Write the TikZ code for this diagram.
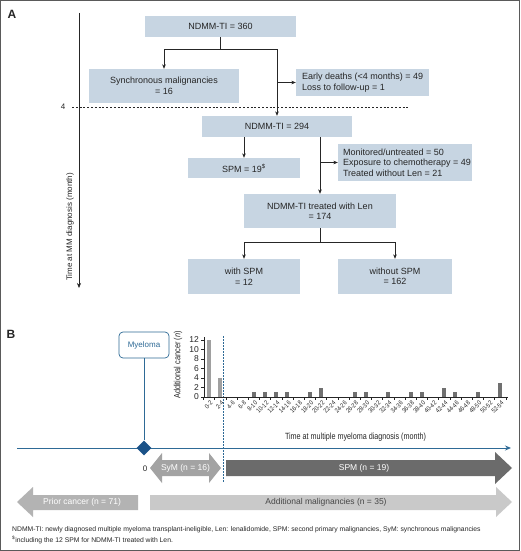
\documentclass[tikz,border=0pt]{standalone}
\usepackage{fontspec}
\setmainfont{Liberation Sans}
\usetikzlibrary{arrows.meta,shapes.geometric}
\definecolor{boxfill}{HTML}{C7D5E2}
\definecolor{txt}{HTML}{262626}
\definecolor{axblue}{HTML}{2E6A96}
\definecolor{diamblue}{HTML}{1B5288}
\definecolor{symgray}{HTML}{A3A3A3}
\definecolor{spmgray}{HTML}{6B6B6B}
\definecolor{priorgray}{HTML}{B3B3B3}
\definecolor{addgray}{HTML}{C9C9C9}
\definecolor{barlight}{HTML}{A0A0A0}
\definecolor{bardark}{HTML}{707070}
\definecolor{framec}{HTML}{5A5A5A}
\begin{document}
\begin{tikzpicture}[x=1pt,y=-1pt,
  box/.style={fill=boxfill, inner sep=0pt, font=\fontsize{9}{10.5}\selectfont, text=txt, align=center},
  ltext/.style={inner sep=0pt, font=\fontsize{9}{10.5}\selectfont, text=txt, align=left, anchor=west},
  conn/.style={draw=txt, line width=0.6pt},
  arr/.style={conn, -{Stealth[length=4.5pt,width=3.6pt]}},
  panel/.style={font=\bfseries\fontsize{12}{12}\selectfont, text=txt},
  arrowtext/.style={font=\fontsize{8.5}{9}\selectfont, text=white},
  tick/.style={font=\fontsize{8.5}{9}\selectfont, text=txt, inner sep=1pt},
  binlab/.style={font=\fontsize{6.5}{6.5}\selectfont, text=txt, inner sep=0pt, rotate=45, anchor=east},
  foot/.style={font=\fontsize{6.8}{7.5}\selectfont, text=txt, anchor=west, inner sep=0pt}
]
\useasboundingbox (0,0) rectangle (520,551);
\fill[white] (0,0) rectangle (520,551);
\draw[framec, line width=1pt] (0.5,0.5) rectangle (519.5,550.5);

% ---------------- Panel A ----------------
\node[panel] (labA) at (12,14) {A};

\coordinate (t0) at (79,13);
\coordinate (t1) at (79,288);
\draw[conn, -{Stealth[length=5pt,width=4pt]}] (t0) -- (t1);
\node[rotate=90, anchor=west, font=\fontsize{8}{9}\selectfont, text=txt, inner sep=0pt] (tlab) at (70,281) {Time at MM diagnosis (month)};

\node[font=\fontsize{8}{9}\selectfont, text=txt, inner sep=0pt] (four) at (63,107) {4};
\coordinate (d1) at (72,107);
\coordinate (d2) at (410,107);
\draw[txt, line width=0.6pt, dash pattern=on 2pt off 1.8pt] (d1) -- (d2);

\node[box, minimum width=151, minimum height=21] (n360) at (220.5,26.5) {NDMM-TI = 360};
\node[box, minimum width=150, minimum height=34] (syn) at (164,86) {Synchronous malignancies\\= 16};
\node[box, minimum width=133, minimum height=27] (early) at (362.5,82.5) {};
\node[ltext] (earlyt) at ([xshift=6pt]early.west) {Early deaths (<4 months) = 49\\Loss to follow-up = 1};
\node[box, minimum width=150, minimum height=21] (n294) at (277,126.5) {NDMM-TI = 294};
\node[box, minimum width=112, minimum height=20] (spm) at (244,168) {SPM = 19\textsuperscript{\$}};
\node[box, minimum width=134, minimum height=37] (mon) at (405,162.5) {};
\node[ltext] (mont) at ([xshift=5pt]mon.west) {Monitored/untreated = 50\\Exposure to chemotherapy = 49\\Treated without Len = 21};
\node[box, minimum width=152, minimum height=34] (len) at (320,211) {NDMM-TI treated with Len\\= 174};
\node[box, minimum width=112, minimum height=35] (with) at (244,276.5) {with SPM\\= 12};
\node[box, minimum width=114, minimum height=35] (without) at (395,276.5) {without SPM\\= 162};

\coordinate (j1) at (220.5,49);
\draw[conn] (n360.south) -- (j1);
\draw[arr] (j1) -| (syn.north);
\draw[arr] (j1) -| (n294.north);
\coordinate (j2) at (277,82.5);
\draw[arr] (j2) -- (early.west);
\draw[arr] (spm.north |- n294.south) -- (spm.north);
\draw[arr] (len.north |- n294.south) -- (len.north);
\coordinate (j3) at (len.north |- mon.west);
\draw[arr] (j3) -- (mon.west);
\coordinate (j4) at (320,242);
\draw[conn] (len.south) -- (j4);
\draw[arr] (j4) -| (with.north);
\draw[arr] (j4) -| (without.north);

% ---------------- Panel B ----------------
\node[panel] (labB) at (11,334) {B};

% block arrows
\fill[priorgray] (17,502) -- (33,487) -- (33,495) -- (138,495) -- (138,510) -- (33,510) -- (33,517) -- cycle;
\node[arrowtext] (prior) at (82,502.5) {Prior cancer (n = 71)};
\fill[addgray] (150,495) -- (496,495) -- (496,487) -- (512,502) -- (496,517) -- (496,510) -- (150,510) -- cycle;
\node[arrowtext, text=txt!85] (addm) at (326,502.5) {Additional malignancies (n = 35)};
\fill[symgray] (150,468) -- (162,453) -- (162,460) -- (209,460) -- (209,453) -- (221,468) -- (209,483) -- (209,476) -- (162,476) -- (162,483) -- cycle;
\node[arrowtext] (sym) at (185.5,468) {SyM (n = 16)};
\fill[spmgray] (226,460) -- (495,460) -- (495,452) -- (512,468) -- (495,484) -- (495,476) -- (226,476) -- cycle;
\node[arrowtext] (spmb) at (364,468) {SPM (n = 19)};

\node[font=\fontsize{8}{9}\selectfont, text=txt, inner sep=0pt] (zero) at (145,469) {0};

% dotted 4-month line
\coordinate (v1) at (223,336);
\coordinate (v2) at (223,482);
\draw[axblue, line width=0.7pt, dash pattern=on 1.5pt off 1.5pt] (v1) -- (v2);

% time axis
\coordinate (h0) at (17,448);
\coordinate (h1) at (511,448);
\draw[axblue, line width=1pt, -{Stealth[length=6pt,width=5pt]}] (h0) -- (h1);
\node[font=\fontsize{9}{10}\selectfont, text=txt, inner sep=0pt] (taxis) at (355.5,437) {\scalebox{0.8}[1]{Time at multiple myeloma diagnosis (month)}};

% myeloma
\node[draw=axblue, line width=0.7pt, rounded corners=4pt, fill=white, minimum width=50, minimum height=26, inner sep=0pt, font=\fontsize{8}{9}\selectfont, text=axblue] (mye) at (144,345) {Myeloma};
\node[diamond, fill=diamblue, minimum size=15, inner sep=0pt] (dia) at (144,448) {};
\draw[axblue, line width=1pt] (mye.south) -- (dia.north);

% bar chart
\coordinate (o) at (204,397);
\coordinate (ytop) at (204,337);
\coordinate (xend) at (508,397);
\draw[txt, line width=0.6pt] (ytop) -- (o) -- (xend);
\foreach \v in {0,2,...,12} {
  \draw[txt, line width=0.5pt] (204,{397-4.75*\v}) -- (201,{397-4.75*\v});
  \node[tick, anchor=east] at (200,{397-4.75*\v}) {\v};
}
\node[rotate=90, font=\fontsize{9}{10}\selectfont, text=txt, inner sep=0pt] (ylab) at (178,365) {\scalebox{0.82}[1]{Additional cancer (\textit{n})}};
\foreach \i in {0,...,27} {
  \draw[txt, line width=0.5pt] ({203.4+11.2*\i},397) -- ({203.4+11.2*\i},400);
}
\foreach \i/\v in {0/12,1/4} {
  \fill[barlight] ({209+11.2*\i-2},397) rectangle ({209+11.2*\i+2},{397-4.75*\v});
}
\foreach \i/\v in {4/1,5/1,6/1,7/1,9/1,10/2,13/1,14/1,16/1,18/1,19/1,21/2,22/1,24/1,26/3} {
  \fill[bardark] ({209+11.2*\i-2},397) rectangle ({209+11.2*\i+2},{397-4.75*\v});
}
\foreach \i in {0,...,26} {
  \pgfmathtruncatemacro\a{2*\i}
  \pgfmathtruncatemacro\b{2*\i+2}
  \node[binlab] at ({209+11.2*\i+2.5},402) {\scalebox{0.85}[1]{\a-\b}};
}

% footnote
\node[foot] (f1) at (12,530) {NDMM-TI: newly diagnosed multiple myeloma transplant-ineligible, Len: lenalidomide, SPM: second primary malignancies, SyM: synchronous malignancies};
\node[foot] (f2) at (12,539.5) {\textsuperscript{\$}including the 12 SPM for NDMM-TI treated with Len.};
\end{tikzpicture}
\end{document}
